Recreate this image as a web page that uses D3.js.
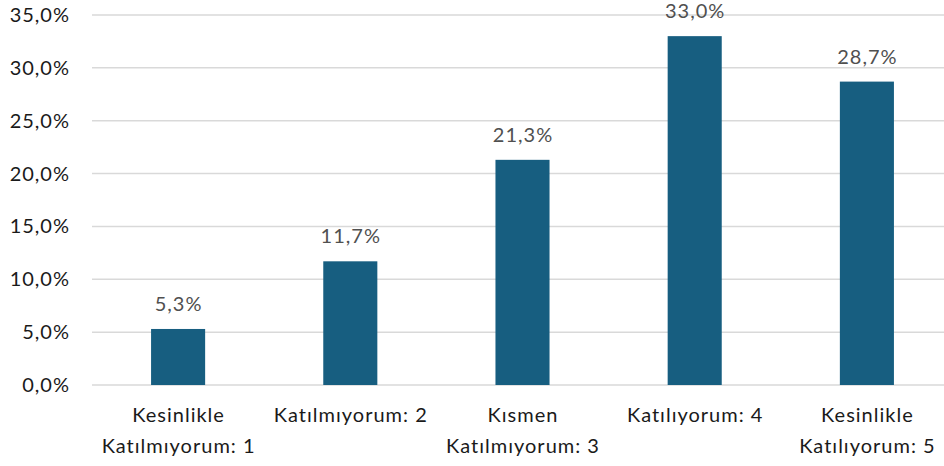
<!DOCTYPE html>
<html><head><meta charset="utf-8">
<script src="https://cdn.jsdelivr.net/npm/d3@7"></script>
<style>body{margin:0;background:#fff;} svg{display:block;}</style>
</head><body>
<script>
const categories = [["Kesinlikle","Katılmıyorum: 1"],["Katılmıyorum: 2"],["Kısmen","Katılmıyorum: 3"],["Katılıyorum: 4"],["Kesinlikle","Katılıyorum: 5"]];
const values = [5.3, 11.7, 21.3, 33.0, 28.7];
const yTicks = [0,5,10,15,20,25,30,35];

const W = 944, H = 466;
const svg = d3.select("body").append("svg").attr("width", W).attr("height", H);
const font = "Lato, 'Open Sans', sans-serif";
const fs = 20, ls = 1;
const x = d3.scaleBand().domain(d3.range(values.length)).range([92, 953]).paddingInner(0.686).paddingOuter(0.343);
const y = d3.scaleLinear().domain([0, 35]).range([385, 15]);
const fmt = v => v.toFixed(1).replace(".", ",") + "%";

svg.append("g").selectAll("line").data(yTicks).join("line")
  .attr("x1", 92).attr("x2", 953)
  .attr("y1", d => y(d)).attr("y2", d => y(d))
  .attr("stroke", "#d9d9d9").attr("stroke-width", 1.5);

svg.append("g").selectAll("text").data(yTicks).join("text")
  .attr("x", 70).attr("y", d => y(d)).attr("dy", "0.35em")
  .attr("text-anchor", "end").attr("font-family", font).attr("font-size", fs).attr("letter-spacing", ls).attr("fill", "#1a1a1a")
  .text(d => fmt(d));

svg.append("g").selectAll("rect").data(values).join("rect")
  .attr("x", (d, i) => x(i)).attr("width", x.bandwidth())
  .attr("y", d => y(d)).attr("height", d => y(0) - y(d))
  .attr("fill", "#175E80");

svg.append("g").selectAll("text").data(values).join("text")
  .attr("x", (d, i) => x(i) + x.bandwidth() / 2 + ls / 2).attr("y", d => y(d) - 18)
  .attr("text-anchor", "middle").attr("font-family", font).attr("font-size", fs).attr("letter-spacing", ls).attr("fill", "#505050")
  .text(d => fmt(d));

const cg = svg.append("g").selectAll("text").data(categories).join("text")
  .attr("text-anchor", "middle").attr("font-family", font).attr("font-size", fs).attr("letter-spacing", ls).attr("fill", "#1a1a1a")
  .attr("x", (d, i) => x(i) + x.bandwidth() / 2 + ls / 2);
cg.selectAll("tspan").data(d => d).join("tspan")
  .attr("x", function() { return d3.select(this.parentNode).attr("x"); })
  .attr("y", (d, j) => 422 + j * 31)
  .text(d => d);
</script>
</body></html>
